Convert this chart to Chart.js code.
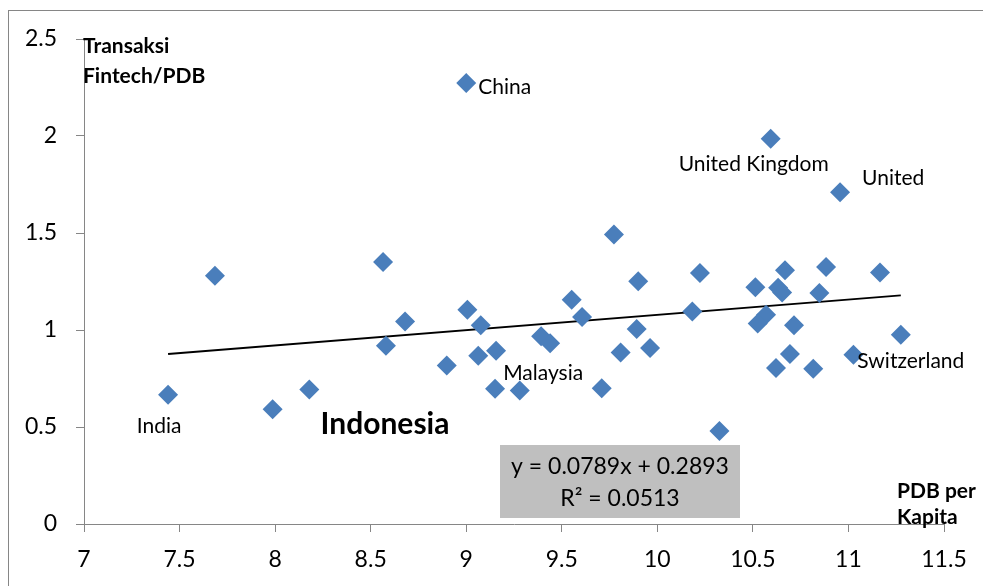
<!DOCTYPE html>
<html>
<head>
<meta charset="utf-8">
<script src="https://cdn.jsdelivr.net/npm/chart.js@4.4.1/dist/chart.umd.min.js"></script>
<style>
  body { margin: 0; background: #fff; }
  #wrap { width: 983px; height: 586px; }
</style>
</head>
<body>
<div id="wrap"><canvas id="scatterChart" width="983" height="586"></canvas></div>
<script>
// PDB per kapita (log) vs transaksi fintech / PDB
const pdbPerKapita = [7.44, 7.685, 7.987, 8.179, 8.565, 8.58, 8.68, 8.898, 9.006, 9.076, 9.063, 9.156,
  9.0, 9.151, 9.28, 9.552, 9.606, 9.392, 9.439, 9.709, 9.773, 9.90, 9.892, 9.808, 9.962,
  10.223, 10.183, 10.513, 10.668, 10.632, 10.653, 10.569, 10.525, 10.715, 10.883, 10.848,
  11.165, 11.274, 10.694, 10.621, 10.816, 11.026, 10.593, 10.956, 10.325];
const fintechPdb = [0.666, 1.28, 0.592, 0.693, 1.351, 0.919, 1.044, 0.817, 1.105, 1.024, 0.867, 0.893,
  2.273, 0.697, 0.688, 1.156, 1.067, 0.968, 0.932, 0.70, 1.492, 1.251, 1.005, 0.884, 0.907,
  1.294, 1.096, 1.22, 1.308, 1.218, 1.193, 1.079, 1.033, 1.024, 1.325, 1.191,
  1.297, 0.976, 0.876, 0.804, 0.80, 0.872, 1.986, 1.71, 0.48];
const countryNames = ["India", "", "", "", "", "", "", "", "", "", "", "",
  "China", "", "", "", "", "", "Malaysia", "", "", "", "", "", "",
  "", "", "", "", "", "", "", "", "", "", "",
  "", "Switzerland", "", "", "", "", "United Kingdom", "United", ""];

const xTicks = [7, 7.5, 8, 8.5, 9, 9.5, 10, 10.5, 11, 11.5];
const yTicks = [0, 0.5, 1, 1.5, 2, 2.5];

// linear trendline shown in the box
const trendSlope = 0.0789;
const trendIntercept = 0.2893;
const trendR2 = "0.0513";
const trendRange = [7.44, 11.274];

const highlightLabel = { text: "Indonesia", x: 8.575, y: 0.516 };

const FONT = "Lato, 'Open Sans', sans-serif";

// offsets (px) of the country labels from their points
const labelPos = {
  "India": { dx: -9, dy: 31, align: "center" },
  "China": { dx: 12, dy: 4, align: "left" },
  "Malaysia": { dx: -7, dy: 30, align: "center" },
  "Switzerland": { dx: 10, dy: 27, align: "center" },
  "United Kingdom": { dx: -17, dy: 26, align: "center" },
  "United": { dx: 22, dy: -14, align: "left" }
};

const extrasPlugin = {
  id: "extras",
  beforeDraw(chart) {
    const ctx = chart.ctx;
    ctx.save();
    ctx.fillStyle = "#fff";
    ctx.fillRect(0, 0, chart.width, chart.height);
    ctx.strokeStyle = "#868686";
    ctx.lineWidth = 1;
    ctx.strokeRect(8.5, 10.5, chart.width + 20, chart.height + 20);
    ctx.restore();
  },
  afterDatasetsDraw(chart) {
    const ctx = chart.ctx;
    const xs = chart.scales.x, ys = chart.scales.y;
    ctx.save();
    ctx.fillStyle = "#000";
    ctx.textBaseline = "middle";

    // country labels
    ctx.font = "21px " + FONT;
    countryNames.forEach((name, i) => {
      if (!name) return;
      const p = labelPos[name];
      ctx.textAlign = p.align;
      ctx.fillText(name, xs.getPixelForValue(pdbPerKapita[i]) + p.dx, ys.getPixelForValue(fintechPdb[i]) + p.dy);
    });

    ctx.font = "bold 30px " + FONT;
    ctx.textAlign = "center";
    ctx.fillText(highlightLabel.text, xs.getPixelForValue(highlightLabel.x), ys.getPixelForValue(highlightLabel.y));

    // axis titles
    ctx.font = "bold 21px " + FONT;
    ctx.textAlign = "left";
    ctx.fillText("Transaksi", 83, 46);
    ctx.fillText("Fintech/PDB", 83, 76);
    ctx.fillText("PDB per", 897, 491);
    ctx.fillText("Kapita", 897, 517);

    // trendline equation box
    ctx.fillStyle = "#bfbfbf";
    ctx.fillRect(500, 445, 240, 73);
    ctx.fillStyle = "#000";
    ctx.font = "23px " + FONT;
    ctx.textAlign = "center";
    ctx.fillText("y = " + trendSlope + "x + " + trendIntercept, 620, 467);
    ctx.fillText("R² = " + trendR2, 620, 499);
    ctx.restore();
  }
};

const axisGrid = {
  display: true,
  drawOnChartArea: false,
  drawTicks: true,
  tickLength: 8,
  color: "#868686"
};

new Chart(document.getElementById("scatterChart"), {
  type: "scatter",
  data: {
    datasets: [
      {
        label: "Fintech",
        data: pdbPerKapita.map((x, i) => ({ x: x, y: fintechPdb[i] })),
        pointStyle: "rectRot",
        pointRadius: 10,
        pointHoverRadius: 10,
        backgroundColor: "#4a7ebb",
        borderColor: "#4a7ebb",
        borderWidth: 0
      },
      {
        type: "line",
        label: "Trend",
        data: trendRange.map(x => ({ x: x, y: trendSlope * x + trendIntercept })),
        borderColor: "#000",
        borderWidth: 1.8,
        pointRadius: 0,
        fill: false
      }
    ]
  },
  options: {
    responsive: false,
    devicePixelRatio: 1,
    animation: false,
    layout: { padding: { left: 0, top: 39, right: 39, bottom: 0 } },
    plugins: {
      legend: { display: false },
      tooltip: { enabled: false }
    },
    scales: {
      x: {
        type: "linear",
        min: 7,
        max: 11.5,
        afterBuildTicks: s => { s.ticks = xTicks.map(v => ({ value: v })); },
        afterFit: s => { s.height = 62; },
        grid: axisGrid,
        border: { display: true, color: "#868686", width: 1 },
        ticks: { color: "#000", font: { family: FONT, size: 23 }, padding: 14, callback: v => String(v) }
      },
      y: {
        type: "linear",
        min: 0,
        max: 2.5,
        afterBuildTicks: s => { s.ticks = yTicks.map(v => ({ value: v })); },
        afterFit: s => { s.width = 84; },
        grid: axisGrid,
        border: { display: true, color: "#868686", width: 1 },
        ticks: { color: "#000", font: { family: FONT, size: 23 }, padding: 19, callback: v => String(v) }
      }
    }
  },
  plugins: [extrasPlugin]
});
</script>
</body>
</html>
